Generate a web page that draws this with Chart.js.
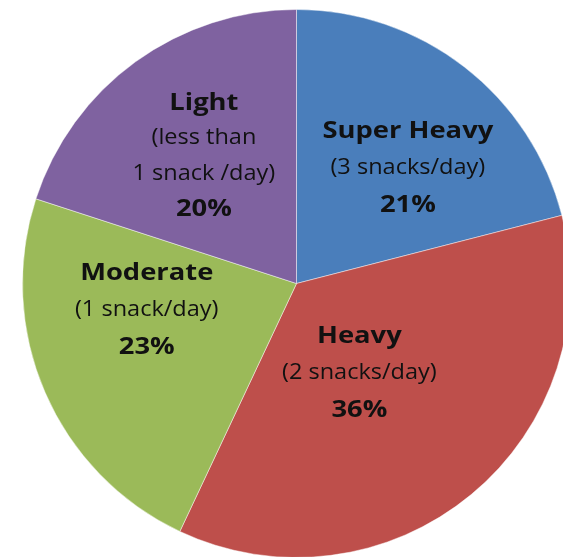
<!DOCTYPE html>
<html>
<head>
<meta charset="utf-8">
<script src="https://cdn.jsdelivr.net/npm/chart.js@4.4.1/dist/chart.umd.min.js"></script>
<style>
    html, body { margin: 0; padding: 0; background: #fff; overflow: hidden; }
    #wrap { position: absolute; left: 22px; top: 9px; width: 549px; height: 549px; }
</style>
</head>
<body>
<div id="wrap"><canvas id="myChart" width="549" height="549"></canvas></div>
<script>
const ctx = document.getElementById('myChart').getContext('2d');

const categories = ['Super Heavy', 'Heavy', 'Moderate', 'Light'];
const subtitles = [['(3 snacks/day)'], ['(2 snacks/day)'], ['(1 snack/day)'], ['(less than', '1 snack /day)']];
const shares = [21, 36, 23, 20];
const sliceColors = ['#4A7EBB', '#BE4F4B', '#9BBA59', '#7F62A0'];

// where each label block sits: [angle from 12 o'clock in degrees, fraction of radius]
const labelSpots = [[44, 0.585], [145, 0.40], [260, 0.555], [324, 0.575]];

const sliceLabels = {
    id: 'sliceLabels',
    afterDatasetsDraw(chart) {
        const c = chart.ctx;
        const arcs = chart.getDatasetMeta(0).data;
        c.save();
        c.fillStyle = '#111';
        c.textAlign = 'center';
        c.textBaseline = 'middle';
        arcs.forEach((arc, i) => {
            const [deg, frac] = labelSpots[i];
            const a = (deg - 90) * Math.PI / 180;
            const cx = arc.x + Math.cos(a) * arc.outerRadius * frac;
            const cy = arc.y + Math.sin(a) * arc.outerRadius * frac;
            const bold = { f: 'bold 24px "Open Sans"', sx: 1.14 };
            const thin = { f: '21px "Open Sans"', sx: 1.12 };
            const lines = [
                { t: categories[i], ...bold },
                ...subtitles[i].map(s => ({ t: s, ...thin })),
                { t: shares[i] + '%', ...bold }
            ];
            const gap = lines.length > 3 ? 35.5 : 37;
            const top = cy - gap * (lines.length - 1) / 2;
            lines.forEach((ln, k) => {
                c.font = ln.f;
                c.save();
                c.translate(cx, top + k * gap);
                c.scale(ln.sx, 1);
                c.fillText(ln.t, 0, 0);
                c.restore();
            });
        });
        c.restore();
    }
};

const myChart = new Chart(ctx, {
    type: 'pie',
    data: {
        labels: categories,
        datasets: [{
            data: shares,
            backgroundColor: sliceColors,
            borderColor: 'rgba(255,255,255,0.45)',
            borderWidth: 1
        }]
    },
    options: {
        responsive: false,
        animation: false,
        layout: { padding: 0 },
        plugins: {
            legend: { display: false },
            tooltip: { enabled: false }
        }
    },
    plugins: [sliceLabels]
});
</script>
</body>
</html>
